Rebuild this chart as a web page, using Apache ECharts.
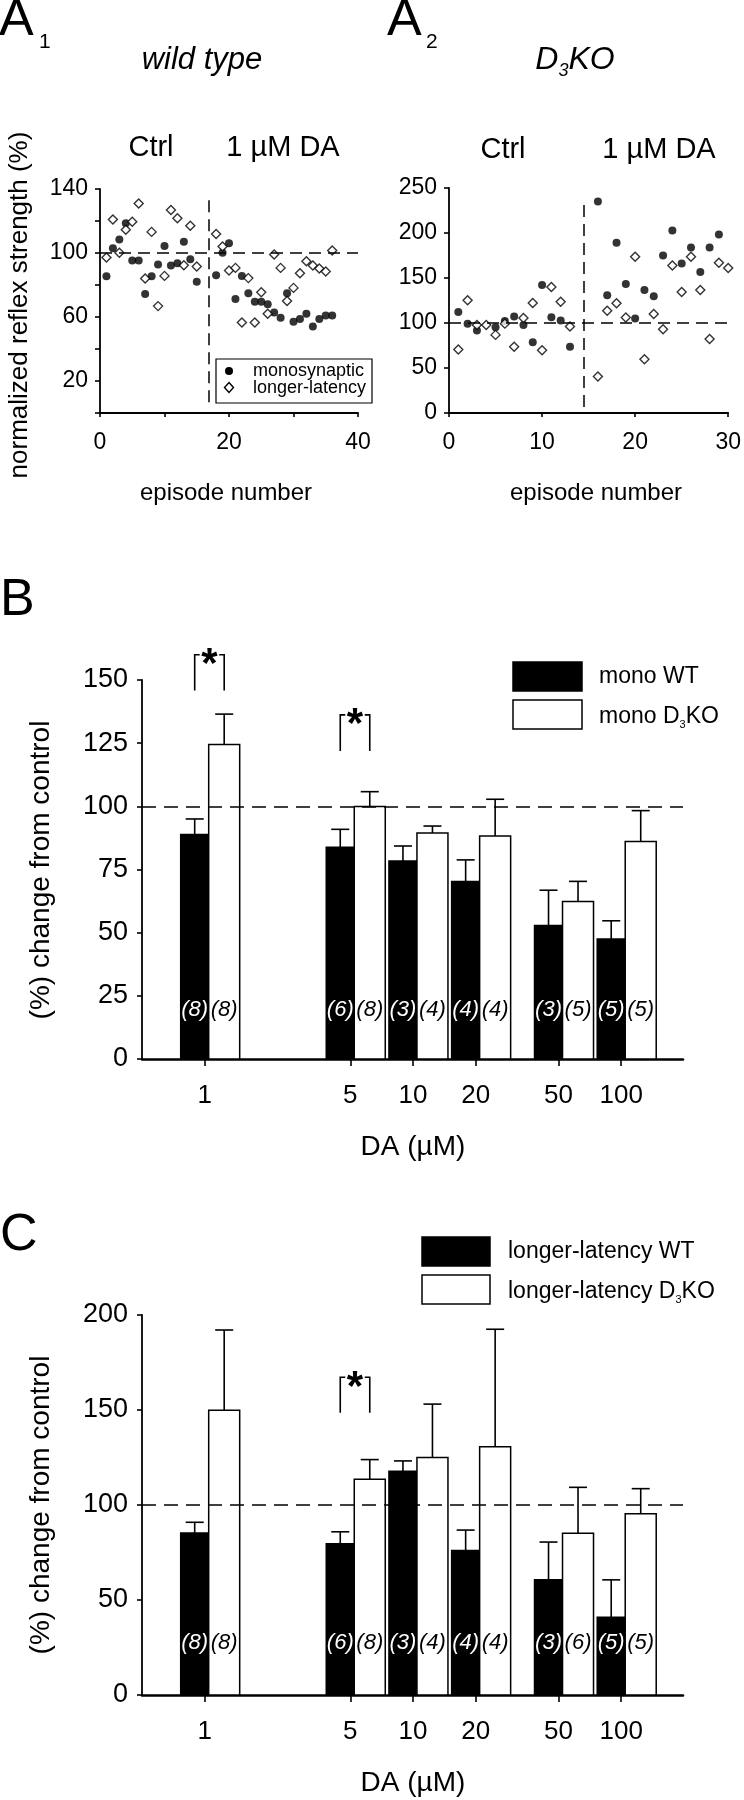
<!DOCTYPE html>
<html><head><meta charset="utf-8">
<script src="https://cdn.jsdelivr.net/npm/echarts@6/dist/echarts.min.js"></script>
<style>html,body{margin:0;padding:0;background:#fff}#c{width:744px;height:1800px}</style>
</head><body><div id="c"></div><script>
// ---------- DATA ----------
// Panel A1 (wild type)
const a1Episodes = [1,2,3,4,5,6,7,8,9,10,11,12,13,14,15,18,19,20,21,22,23,24,25,26,27,28,29,30,31,32,33,34,35,36];
const a1Mono = [85.5,103,108.4,118.6,95.3,95.3,74.3,85.5,92.8,104.4,92.2,93.6,107.1,96.1,82,
                86.1,100.1,106.1,71.2,85.7,74.9,69.5,69.5,68,62.8,59.5,74.9,57,58.7,62,54.1,58.7,61,61];
const a1Long = [97.2,121,100.1,114.6,119.6,131,84,113.2,66.8,85.7,126.9,121.7,92.4,117.1,91.5,
                111.9,104,89,90.7,56.6,84.3,56.6,75.5,62,99,90.7,70,78.2,87.4,94.9,92.2,90.3,88.4,101.5];
const a1DrugLine = 16.8;
// Panel A2 (D3KO)
const a2MonoEpisodes = [1,2,3,5,6,7,8,9,10,11,12,13,16,17,18,19,20,21,22,23,24,25,26,27,28,29];
const a2Mono = [112.3,99.3,91.6,95.3,102.3,107.1,97.9,78.7,142.2,106.4,102.7,73.5,
                234.9,130.7,189.1,143.3,104.9,136.6,129.6,175,202.7,166.2,183.9,156.6,183.9,198.3];
const a2LongEpisodes = [1,2,3,4,5,6,7,8,9,10,11,12,13,16,17,18,19,20,21,22,23,24,25,26,27,28,29,30];
const a2Long = [70.5,125.2,97.9,97.9,86.8,99.3,73.5,105.6,122.2,69.8,140,123.7,96,
                40.6,113.7,121.9,106,173.6,59.8,110,93,164,134.4,173.6,136.6,82.3,166.9,161];
const a2DrugLine = 14.5;
// Panels B and C
const doses = [1,5,10,20,50,100];
const doseLabels = ['1','5','10','20','50','100'];
const bWT = [88.9,83.8,78.4,70.3,52.8,47.5];
const bWTerr = [6.1,7.1,5.9,8.5,14.0,7.2];
const bKO = [124.5,99.9,89.4,88.3,62.3,86.1];
const bKOerr = [12.0,5.9,2.8,14.5,8.0,12.2];
const bWTn = [8,6,3,4,3,5];
const bKOn = [8,8,4,4,5,5];
const bSig = [[1,145.8,160],[5,121.9,136.2]];
const cWT = [85.2,79.6,117.8,76.1,60.6,40.9];
const cWTerr = [5.7,6.3,5.4,10.7,19.9,19.7];
const cKO = [149.9,113.5,125.0,130.6,85.1,95.4];
const cKOerr = [42.2,10.4,28.1,61.9,24.2,13.2];
const cWTn = [8,6,3,4,3,5];
const cKOn = [8,8,4,4,6,5];
const cSig = [[5,148.6,167.2]];

// ---------- STYLE ----------
const FONT = "'Liberation Sans', Arial, Helvetica, sans-serif";
const BLACK = '#000';

function pairs(xs, ys){ return xs.map((x,i)=>[x, ys[i]]); }
function barData(vals, errs, ns){ return doses.map((d,i)=>[d, vals[i], errs[i], ns[i]]); }

function barRender(isWT, lift){
  return function(params, api){
    const d = api.value(0), v = api.value(1), e = api.value(2), n = api.value(3);
    const base = api.coord([d, 0]);
    const top = api.coord([d, v]);
    const et = api.coord([d, v + e]);
    const cx = base[0];
    const x0 = isWT ? cx - 24 : cx + 4;
    const w = isWT ? 28 : 31;
    const mid = x0 + w/2;
    return {type:'group', children:[
      {type:'line', shape:{x1:mid,y1:top[1],x2:mid,y2:et[1]}, style:{stroke:BLACK,lineWidth:1.6}},
      {type:'line', shape:{x1:mid-9,y1:et[1],x2:mid+9,y2:et[1]}, style:{stroke:BLACK,lineWidth:1.6}},
      {type:'rect', shape:{x:x0,y:top[1],width:w,height:base[1]-top[1]}, style:{fill:isWT?BLACK:'#fff',stroke:BLACK,lineWidth:1.5}},
      {type:'text', x:mid, y:base[1]-lift, style:{text:'('+n+')', fontSize:22, fontStyle:'italic', fontFamily:FONT, fill:isWT?'#fff':BLACK, align:'center', verticalAlign:'middle'}}
    ]};
  };
}
function bracketRender(params, api){
  const d = api.value(0), lo = api.value(1), hi = api.value(2);
  const b = api.coord([d, lo]), t = api.coord([d, hi]);
  const lx = b[0] - 10, rx = b[0] + 19.5;
  const ls = {stroke:BLACK, fill:'none', lineWidth:1.6};
  return {type:'group', children:[
    {type:'polyline', shape:{points:[[lx,b[1]],[lx,t[1]],[lx+5,t[1]]]}, style:ls},
    {type:'polyline', shape:{points:[[rx-5,t[1]],[rx,t[1]],[rx,b[1]]]}, style:ls},
    {type:'text', x:(lx+rx)/2, y:t[1]+11, style:{text:'*', fontSize:42, fontWeight:'bold', fontFamily:FONT, fill:BLACK, align:'center', verticalAlign:'middle'}}
  ]};
}

const dashed = {type:[12,7], color:BLACK, width:1.5};

function valAxis(gi, min, max, interval, labelFn, fontSize, margin, tickLen, lw){
  return {type:'value', gridIndex:gi, min:min, max:max, interval:interval,
    axisLine:{show:true, onZero:false, lineStyle:{color:BLACK, width:lw||1.8}},
    axisTick:{show:true, inside:false, length:tickLen, lineStyle:{color:BLACK, width:1.6}},
    axisLabel:{color:BLACK, fontSize:fontSize, fontFamily:FONT, margin:margin, formatter:labelFn},
    splitLine:{show:false}};
}
function logAxis(gi){
  return {type:'log', gridIndex:gi, logBase:10, min:0.5, max:198,
    axisLine:{show:true, onZero:false, lineStyle:{color:BLACK, width:2.5}},
    axisTick:{show:true, length:7, lineStyle:{color:BLACK, width:1.6}, customValues:doses},
    axisLabel:{color:BLACK, fontSize:26, fontFamily:FONT, margin:24, customValues:doses,
      formatter:(v)=>{ const i = doses.indexOf(Math.round(v)); return i>=0 ? doseLabels[i] : ''; }},
    splitLine:{show:false}, minorTick:{show:false}};
}

const option = {
  backgroundColor:'#fff',
  animation:false,
  grid:[
    {left:100, top:189, width:258, height:224},
    {left:449, top:188, width:280, height:225},
    {left:142, top:680, width:541, height:379},
    {left:142, top:1315, width:541, height:380}
  ],
  xAxis:[
    valAxis(0, 0, 40, 10, (v)=> v%20===0 ? String(v) : '', 23, 18, 4),
    valAxis(1, 0, 30, 10, (v)=> String(v), 23, 18, 4),
    logAxis(2),
    logAxis(3)
  ],
  yAxis:[
    valAxis(0, 0, 140, 20, (v)=> [20,60,100,140].indexOf(v)>=0 ? String(v) : '', 23, 12, 5),
    valAxis(1, 0, 250, 50, (v)=> String(v), 23, 12, 5),
    valAxis(2, 0, 150, 25, (v)=> String(v), 27, 14, 5),
    valAxis(3, 0, 200, 50, (v)=> String(v), 27, 14, 5)
  ],
  series:[
    {type:'scatter', xAxisIndex:0, yAxisIndex:0, data:pairs(a1Episodes, a1Mono), symbol:'circle', symbolSize:8,
     itemStyle:{color:BLACK},
     markLine:{silent:true, symbol:'none', label:{show:false}, lineStyle:dashed,
       data:[{yAxis:100}, [{coord:[a1DrugLine,6.7]},{coord:[a1DrugLine,134]}]]}},
    {type:'scatter', xAxisIndex:0, yAxisIndex:0, data:pairs(a1Episodes, a1Long), symbol:'diamond', symbolSize:9,
     itemStyle:{color:'#fff', borderColor:BLACK, borderWidth:1.4}},
    {type:'scatter', xAxisIndex:1, yAxisIndex:1, data:pairs(a2MonoEpisodes, a2Mono), symbol:'circle', symbolSize:8,
     itemStyle:{color:BLACK},
     markLine:{silent:true, symbol:'none', label:{show:false}, lineStyle:dashed,
       data:[{yAxis:100}, [{coord:[a2DrugLine,6.6]},{coord:[a2DrugLine,234]}]]}},
    {type:'scatter', xAxisIndex:1, yAxisIndex:1, data:pairs(a2LongEpisodes, a2Long), symbol:'diamond', symbolSize:9,
     itemStyle:{color:'#fff', borderColor:BLACK, borderWidth:1.4}},
    {type:'custom', xAxisIndex:2, yAxisIndex:2, data:barData(bWT,bWTerr,bWTn), renderItem:barRender(true,49), encode:{x:0,y:1}, z:3,
     markLine:{silent:true, symbol:'none', label:{show:false}, lineStyle:{type:[14,8], color:BLACK, width:1.5}, data:[{yAxis:100}]}},
    {type:'custom', xAxisIndex:2, yAxisIndex:2, data:barData(bKO,bKOerr,bKOn), renderItem:barRender(false,49), encode:{x:0,y:1}, z:4},
    {type:'custom', xAxisIndex:2, yAxisIndex:2, data:bSig, renderItem:bracketRender, encode:{x:0,y:[1,2]}, z:5},
    {type:'custom', xAxisIndex:3, yAxisIndex:3, data:barData(cWT,cWTerr,cWTn), renderItem:barRender(true,52), encode:{x:0,y:1}, z:3,
     markLine:{silent:true, symbol:'none', label:{show:false}, lineStyle:{type:[14,8], color:BLACK, width:1.5}, data:[{yAxis:100}]}},
    {type:'custom', xAxisIndex:3, yAxisIndex:3, data:barData(cKO,cKOerr,cKOn), renderItem:barRender(false,52), encode:{x:0,y:1}, z:4},
    {type:'custom', xAxisIndex:3, yAxisIndex:3, data:cSig, renderItem:bracketRender, encode:{x:0,y:[1,2]}, z:5}
  ],
  graphic:[
    // panel letters
    {type:'text', x:-1, y:21, style:{text:'A', fontSize:52, fontFamily:FONT, fill:BLACK, verticalAlign:'middle'}},
    {type:'text', x:39, y:42, style:{text:'1', fontSize:21, fontFamily:FONT, fill:BLACK, verticalAlign:'middle'}},
    {type:'text', x:387, y:21, style:{text:'A', fontSize:52, fontFamily:FONT, fill:BLACK, verticalAlign:'middle'}},
    {type:'text', x:426, y:42, style:{text:'2', fontSize:21, fontFamily:FONT, fill:BLACK, verticalAlign:'middle'}},
    {type:'text', x:0, y:601, style:{text:'B', fontSize:52, fontFamily:FONT, fill:BLACK, verticalAlign:'middle'}},
    {type:'text', x:0, y:1236, style:{text:'C', fontSize:52, fontFamily:FONT, fill:BLACK, verticalAlign:'middle'}},
    // A titles
    {type:'text', x:202, y:60, style:{text:'wild type', fontSize:31, fontStyle:'italic', fontFamily:FONT, fill:BLACK, align:'center', verticalAlign:'middle'}},
    {type:'text', x:575, y:62, style:{text:'{d|D}{s|3}{d|KO}', fontFamily:FONT, fill:BLACK, align:'center', verticalAlign:'middle',
      rich:{d:{fontSize:32, fontStyle:'italic', fontFamily:FONT, padding:[0,0,4,0], verticalAlign:'bottom'}, s:{fontSize:18, fontStyle:'italic', fontFamily:FONT, verticalAlign:'bottom'}}}},
    {type:'text', x:151, y:148, style:{text:'Ctrl', fontSize:29, fontFamily:FONT, fill:BLACK, align:'center', verticalAlign:'middle'}},
    {type:'text', x:283, y:148, style:{text:'1 µM DA', fontSize:29, fontFamily:FONT, fill:BLACK, align:'center', verticalAlign:'middle'}},
    {type:'text', x:503, y:150, style:{text:'Ctrl', fontSize:29, fontFamily:FONT, fill:BLACK, align:'center', verticalAlign:'middle'}},
    {type:'text', x:659, y:150, style:{text:'1 µM DA', fontSize:29, fontFamily:FONT, fill:BLACK, align:'center', verticalAlign:'middle'}},
    // axis names
    {type:'text', x:20, y:305, rotation:Math.PI/2, style:{text:'normalized reflex strength (%)', fontSize:26, fontFamily:FONT, fill:BLACK, align:'center', verticalAlign:'middle'}},
    {type:'text', x:226, y:493, style:{text:'episode number', fontSize:24, fontFamily:FONT, fill:BLACK, align:'center', verticalAlign:'middle'}},
    {type:'text', x:596, y:493, style:{text:'episode number', fontSize:24, fontFamily:FONT, fill:BLACK, align:'center', verticalAlign:'middle'}},
    {type:'text', x:41, y:870, rotation:Math.PI/2, style:{text:'(%) change from control', fontSize:28, fontFamily:FONT, fill:BLACK, align:'center', verticalAlign:'middle'}},
    {type:'text', x:41, y:1505, rotation:Math.PI/2, style:{text:'(%) change from control', fontSize:28, fontFamily:FONT, fill:BLACK, align:'center', verticalAlign:'middle'}},
    {type:'text', x:413, y:1147, style:{text:'DA (µM)', fontSize:28, fontFamily:FONT, fill:BLACK, align:'center', verticalAlign:'middle'}},
    {type:'text', x:413, y:1783, style:{text:'DA (µM)', fontSize:28, fontFamily:FONT, fill:BLACK, align:'center', verticalAlign:'middle'}},
    // A1 legend
    {type:'rect', shape:{x:216, y:359, width:156, height:44}, style:{fill:'#fff', stroke:BLACK, lineWidth:1.2}, z:10},
    {type:'circle', shape:{cx:229, cy:371, r:4}, style:{fill:BLACK}, z:11},
    {type:'polygon', shape:{points:[[229,382.5],[233.5,387.5],[229,392.5],[224.5,387.5]]}, style:{fill:'#fff', stroke:BLACK, lineWidth:1.4}, z:11},
    {type:'text', x:253, y:371, style:{text:'monosynaptic', fontSize:18, fontFamily:FONT, fill:BLACK, verticalAlign:'middle'}, z:11},
    {type:'text', x:253, y:388, style:{text:'longer-latency', fontSize:18, fontFamily:FONT, fill:BLACK, verticalAlign:'middle'}, z:11},
    // B legend
    {type:'rect', shape:{x:513, y:662, width:69, height:29}, style:{fill:BLACK, stroke:BLACK, lineWidth:1.5}},
    {type:'rect', shape:{x:513, y:700, width:69, height:29}, style:{fill:'#fff', stroke:BLACK, lineWidth:1.5}},
    {type:'text', x:599, y:677, style:{text:'mono WT', fontSize:23, fontFamily:FONT, fill:BLACK, verticalAlign:'middle'}},
    {type:'text', x:599, y:718, style:{text:'{n|mono D}{s|3}{n|KO}', fontFamily:FONT, fill:BLACK, verticalAlign:'middle',
      rich:{n:{fontSize:23, fontFamily:FONT, padding:[0,0,2,0], verticalAlign:'bottom'}, s:{fontSize:11, fontFamily:FONT, verticalAlign:'bottom'}}}},
    // C legend
    {type:'rect', shape:{x:422, y:1237, width:68, height:29}, style:{fill:BLACK, stroke:BLACK, lineWidth:1.5}},
    {type:'rect', shape:{x:422, y:1275, width:68, height:29}, style:{fill:'#fff', stroke:BLACK, lineWidth:1.5}},
    {type:'text', x:508, y:1252, style:{text:'longer-latency WT', fontSize:23, fontFamily:FONT, fill:BLACK, verticalAlign:'middle'}},
    {type:'text', x:508, y:1293, style:{text:'{n|longer-latency D}{s|3}{n|KO}', fontFamily:FONT, fill:BLACK, verticalAlign:'middle',
      rich:{n:{fontSize:23, fontFamily:FONT, padding:[0,0,2,0], verticalAlign:'bottom'}, s:{fontSize:11, fontFamily:FONT, verticalAlign:'bottom'}}}}
  ]
};
const chart = echarts.init(document.getElementById('c'), null, {renderer:'canvas'});
chart.setOption(option);
</script></body></html>
